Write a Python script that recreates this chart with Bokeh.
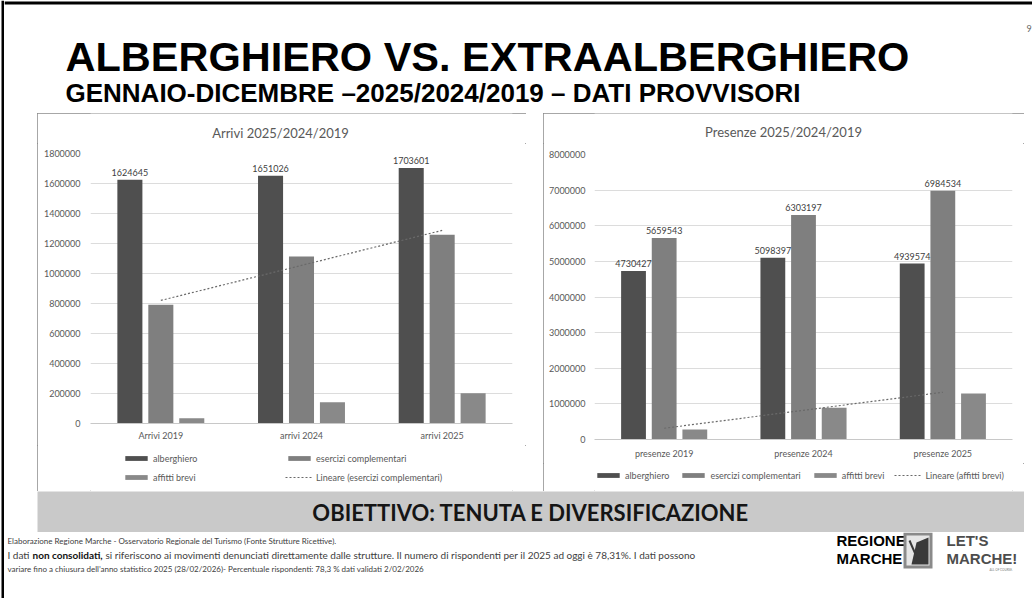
import numpy as np
from bokeh.plotting import figure
from bokeh.models import (ColumnDataSource, FactorRange, Range1d, FixedTicker,
                          NumeralTickFormatter, Legend, LegendItem, LabelSet, Spacer)
from bokeh.layouts import row, column
from bokeh.transform import dodge
from bokeh.core.properties import value
from bokeh.embed import file_html
from bokeh.resources import INLINE

# ---------------- data ----------------
arrivi_cats = ["Arrivi 2019", "arrivi 2024", "arrivi 2025"]
arrivi_alberghiero = [1624645, 1651026, 1703601]
arrivi_esercizi = [791000, 1113000, 1258000]
arrivi_affitti = [35000, 142000, 202000]
arrivi_ticks = [0, 200000, 400000, 600000, 800000, 1000000, 1200000, 1400000, 1600000, 1800000]

presenze_cats = ["presenze 2019", "presenze 2024", "presenze 2025"]
presenze_alberghiero = [4730427, 5098397, 4939574]
presenze_esercizi = [5659543, 6303197, 6984534]
presenze_affitti = [280000, 890000, 1290000]
presenze_ticks = [0, 1000000, 2000000, 3000000, 4000000, 5000000, 6000000, 7000000, 8000000]

series_names = ["alberghiero", "esercizi complementari", "affitti brevi"]
series_colors = ["#4f4f4f", "#7f7f7f", "#898989"]

title_main = "ALBERGHIERO VS. EXTRAALBERGHIERO"
title_sub = "GENNAIO-DICEMBRE \u20132025/2024/2019 \u2013 DATI PROVVISORI"
banner_text = "OBIETTIVO: TENUTA E DIVERSIFICAZIONE"
foot1 = "Elaborazione Regione Marche - Osservatorio Regionale del Turismo (Fonte Strutture Ricettive)."
foot2a = "I dati "
foot2b = "non consolidati,"
foot2c = " si riferiscono ai movimenti denunciati direttamente dalle strutture. Il numero di rispondenti per il 2025 ad oggi \u00e8 78,31%. I dati possono"
foot3 = "variare fino a chiusura dell\u2019anno statistico 2025 (28/02/2026)- Percentuale rispondenti: 78,3 % dati validati 2/02/2026"

FONT = "Lato"
HEAD = "Liberation Sans"
TXT = "#595959"
BOX = {"outline": "1px solid #8a8a8a", "outline-offset": "-1px"}


def plain(width, height, bg="white", bl=0, br=0):
    fw = width - bl - br
    p = figure(width=width, height=height, x_range=Range1d(0, fw), y_range=Range1d(height, 0),
               x_axis_type=None, y_axis_type=None, toolbar_location=None, output_backend="svg",
               min_border=0, min_border_left=bl, min_border_right=br,
               outline_line_color=None, background_fill_color=bg, border_fill_color=bg)
    p.grid.visible = False
    return p


def chart(cats, vals, ticks, ymax, trend_idx, labelled, width, height, mb, std_left, std_bottom):
    p = figure(x_range=FactorRange(*cats), y_range=Range1d(0, ymax), width=width, height=height,
               toolbar_location=None, output_backend="svg",
               min_border_left=mb[0], min_border_right=mb[1], min_border_top=mb[2], min_border_bottom=mb[3],
               outline_line_color=None)
    data = dict(cat=cats)
    keys = ["v0", "v1", "v2"]
    for k, v in zip(keys, vals):
        data[k] = v
        data[k + "s"] = [str(x) for x in v]
    src = ColumnDataSource(data)
    offsets = [-0.22, 0.0, 0.22]
    for k, off, col in zip(keys, offsets, series_colors):
        p.vbar(x=dodge("cat", off, range=p.x_range), top=k, width=0.178, source=src,
               fill_color=col, line_color=None)
    xs = np.arange(1, len(cats) + 1)
    coef = np.polyfit(xs, vals[trend_idx], 1)
    fit = np.polyval(coef, xs)
    p.line(x=cats, y=list(fit), line_dash="2 2", line_color="#6a6a6a", line_width=1.2)
    for i in labelled:
        ls = LabelSet(x=dodge("cat", offsets[i], range=p.x_range), y=keys[i], text=keys[i] + "s",
                      source=src, y_offset=4, text_align="center", text_baseline="bottom",
                      text_font=value(FONT), text_font_size="9px", text_color="#404040")
        p.add_layout(ls)
    p.yaxis.ticker = FixedTicker(ticks=ticks)
    p.yaxis.formatter = NumeralTickFormatter(format="0")
    for ax in (p.xaxis, p.yaxis):
        ax.major_tick_line_color = None
        ax.minor_tick_line_color = None
        ax.major_tick_out = 0
        ax.major_tick_in = 0
        ax.minor_tick_out = 0
        ax.major_label_text_font = FONT
        ax.major_label_text_font_size = "9px"
        ax.major_label_text_color = TXT
    p.yaxis.axis_line_color = None
    p.yaxis.major_label_standoff = std_left
    p.xaxis.axis_line_color = "#c8c8c8"
    p.xaxis.major_label_standoff = std_bottom
    p.xgrid.visible = False
    p.ygrid.grid_line_color = "#dcdcdc"
    return p


def title_fig(text, width, bl, br, x, y):
    t = plain(width, 30, bl=bl, br=br)
    t.text(x=[x], y=[y], text=[text], text_font=value(FONT), text_font_size="13px",
           text_color=TXT, text_align="center", text_baseline="middle")
    return t


def legend_swatches(p):
    rs = []
    for col in series_colors:
        rs.append(p.vbar(x=[-100], top=[0], width=1, fill_color=col, line_color=None))
    rs.append(p.line(x=[-100, -99], y=[0, 0], line_dash="2 2", line_color="#6a6a6a", line_width=1.2))
    return rs


def make_legend(items, loc, orientation="vertical", spacing=3):
    lg = Legend(items=items, location=loc, orientation=orientation)
    lg.glyph_width = 28
    lg.glyph_height = 6
    lg.label_height = 16
    lg.label_standoff = 3
    lg.spacing = spacing
    lg.padding = 0
    lg.margin = 0
    lg.border_line_color = None
    lg.background_fill_alpha = 0
    lg.label_text_font = FONT
    lg.label_text_font_size = "9px"
    lg.label_text_color = TXT
    return lg


# -------- left chart box (page x 37..526, y 113..491); frame x 90..512 --------
LB = (53, 14)
left_title = title_fig("Arrivi 2025/2024/2019", 489, LB[0], LB[1], 190, 19)
left = chart(arrivi_cats, [arrivi_alberghiero, arrivi_esercizi, arrivi_affitti], arrivi_ticks, 1800000,
             1, [0], 489, 302, (LB[0], LB[1], 10, 22), 10, 6)
left_leg = plain(489, 46, bl=LB[0], br=LB[1])
sw = legend_swatches(left_leg)
left_leg.add_layout(make_legend([LegendItem(label=series_names[0], renderers=[sw[0]]),
                                 LegendItem(label=series_names[2], renderers=[sw[2]])], (32, 6)))
left_leg.add_layout(make_legend([LegendItem(label=series_names[1], renderers=[sw[1]]),
                                 LegendItem(label="Lineare (esercizi complementari)", renderers=[sw[3]])],
                                (195, 6)))
left_box = column(left_title, left, left_leg, styles=BOX)

# -------- right chart box (page x 543..1024, y 113..491); frame x 594..1012 --------
RB = (51, 12)
right_title = title_fig("Presenze 2025/2024/2019", 481, RB[0], RB[1], 189, 18)
right = chart(presenze_cats, [presenze_alberghiero, presenze_esercizi, presenze_affitti], presenze_ticks,
              8000000, 2, [0, 1], 481, 320, (RB[0], RB[1], 11, 24), 9, 8)
right_leg = plain(481, 28, bl=RB[0], br=RB[1])
sw2 = legend_swatches(right_leg)
right_leg.add_layout(make_legend([LegendItem(label=series_names[0], renderers=[sw2[0]]),
                                  LegendItem(label=series_names[1], renderers=[sw2[1]]),
                                  LegendItem(label=series_names[2], renderers=[sw2[2]]),
                                  LegendItem(label="Lineare (affitti brevi)", renderers=[sw2[3]])],
                                 (0, 8), orientation="horizontal", spacing=10))
right_box = column(right_title, right, right_leg, styles=BOX)

# -------- header (page y 0..113) --------
header = plain(1028, 113)
header.line(x=[0, 1028], y=[2.5, 2.5], line_color="black", line_width=3)
header.text(x=[61], y=[56], text=[title_main], text_font=value(HEAD), text_font_style="bold",
            text_font_size="41.5px", text_color="black", text_baseline="middle")
header.text(x=[61], y=[92], text=[title_sub], text_font=value(HEAD), text_font_style="bold",
            text_font_size="26px", text_color="black", text_baseline="middle")
header.text(x=[1022], y=[28], text=["9"], text_font=value(FONT), text_font_size="9px",
            text_color="#666666", text_baseline="middle")

# -------- banner --------
banner = plain(987, 41, bg="#c9c9c9")
banner.text(x=[493.5], y=[21], text=[banner_text], text_font=value(FONT), text_font_style="bold",
            text_font_size="22px", text_color="#151515", text_align="center", text_baseline="middle")

# -------- footer (page y 532..598) --------
footer = plain(1028, 66)
fkw = dict(text_font=value(FONT), text_color="#404040", text_baseline="middle")
footer.text(x=[3], y=[8], text=[foot1], text_font_size="8px", **fkw)
footer.text(x=[3], y=[22], text=[foot2a], text_font_size="10px", **fkw)
footer.text(x=[28], y=[22], text=[foot2b], text_font_style="bold", text_font=value(FONT),
            text_font_size="10px", text_color="#111111", text_baseline="middle")
footer.text(x=[101], y=[22], text=[foot2c], text_font_size="10px", **fkw)
footer.text(x=[3], y=[36], text=[foot3], text_font_size="8px", **fkw)
# logos
footer.text(x=[832, 832], y=[8, 26], text=["REGIONE", "MARCHE"], text_font=value(HEAD),
            text_font_style="bold", text_font_size="15px", text_color="black", text_baseline="middle")
footer.quad(left=[899], right=[928], top=[0], bottom=[36], fill_color="#8a8a8a", line_color=None)
footer.quad(left=[902], right=[925], top=[3], bottom=[33], fill_color="#e6e6e6", line_color=None)
footer.patch(x=[912, 924, 924, 907], y=[10, 5, 32, 32], fill_color="#3a3a3a", line_color=None)
footer.line(x=[905, 915], y=[8, 31], line_color="#3a3a3a", line_width=2)
footer.text(x=[942, 942], y=[8, 26], text=["LET'S", "MARCHE!"], text_font=value(HEAD),
            text_font_style="bold", text_font_size="15px", text_color="#4d4d4d", text_baseline="middle")
footer.text(x=[985], y=[37], text=["ALL OF COURSE."], text_font=value(FONT), text_font_size="3px",
            text_color="#777777", text_baseline="middle")

# -------- layout (origin at page 0,0) --------
lborder = plain(4, 598)
lborder.quad(left=[1], right=[4], top=[0], bottom=[598], fill_color="black", line_color=None)
charts = row(Spacer(width=33, height=378), left_box, Spacer(width=17, height=378), right_box,
             Spacer(width=8, height=378))
banner_row = row(Spacer(width=33, height=41), banner, Spacer(width=8, height=41))
main = column(header, charts, banner_row, footer)
root = row(lborder, main)

open("out.html", "w").write(file_html(root, INLINE))
